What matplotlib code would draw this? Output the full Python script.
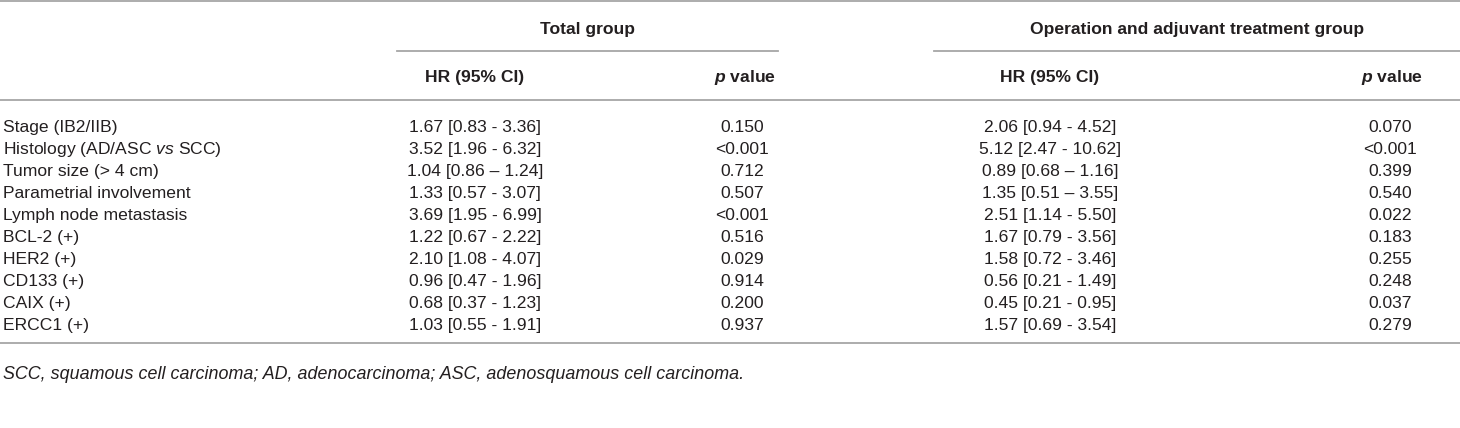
import matplotlib
matplotlib.use("Agg")
import matplotlib.pyplot as plt

plt.rcParams["font.family"] = ["Liberation Sans", "DejaVu Sans"]
plt.rcParams["mathtext.fontset"] = "custom"
plt.rcParams["mathtext.rm"] = "Liberation Sans"
plt.rcParams["mathtext.it"] = "Liberation Sans:italic"
plt.rcParams["mathtext.bf"] = "Liberation Sans:bold"
plt.rcParams["mathtext.bfit"] = "Liberation Sans:italic:bold"

# table contents
variables = ["Stage (IB2/IIB)", r"Histology (AD/ASC $\mathit{vs}$ SCC)", "Tumor size (> 4 cm)",
             "Parametrial involvement", "Lymph node metastasis", "BCL-2 (+)", "HER2 (+)",
             "CD133 (+)", "CAIX (+)", "ERCC1 (+)"]
hr_total = ["1.67 [0.83 - 3.36]", "3.52 [1.96 - 6.32]", "1.04 [0.86 \u2013 1.24]",
            "1.33 [0.57 - 3.07]", "3.69 [1.95 - 6.99]", "1.22 [0.67 - 2.22]",
            "2.10 [1.08 - 4.07]", "0.96 [0.47 - 1.96]", "0.68 [0.37 - 1.23]",
            "1.03 [0.55 - 1.91]"]
p_total = ["0.150", "<0.001", "0.712", "0.507", "<0.001", "0.516", "0.029", "0.914",
           "0.200", "0.937"]
hr_op = ["2.06 [0.94 - 4.52]", "5.12 [2.47 - 10.62]", "0.89 [0.68 \u2013 1.16]",
         "1.35 [0.51 \u2013 3.55]", "2.51 [1.14 - 5.50]", "1.67 [0.79 - 3.56]",
         "1.58 [0.72 - 3.46]", "0.56 [0.21 - 1.49]", "0.45 [0.21 - 0.95]",
         "1.57 [0.69 - 3.54]"]
p_op = ["0.070", "<0.001", "0.399", "0.540", "0.022", "0.183", "0.255", "0.248",
        "0.037", "0.279"]
groups = ["Total group", "Operation and adjuvant treatment group"]
footnote = "SCC, squamous cell carcinoma; AD, adenocarcinoma; ASC, adenosquamous cell carcinoma."

W, H = 1460, 428
fig = plt.figure(figsize=(W / 100, H / 100), dpi=100)
ax = fig.add_axes([0, 0, 1, 1])
ax.set_xlim(0, W)
ax.set_ylim(H, 0)
ax.axis("off")

txt = "#231f20"
rule = "#a6a6a6"
fs = 12.6

# rules
ax.plot([0, W], [1, 1], color=rule, lw=1.3)
ax.plot([397, 778], [51, 51], color=rule, lw=1.3)
ax.plot([934, W], [51, 51], color=rule, lw=1.3)
ax.plot([0, W], [100, 100], color=rule, lw=1.3)
ax.plot([0, W], [343, 343], color=rule, lw=1.3)

# header
ax.text(587, 34, groups[0], ha="center", va="baseline", fontsize=fs, fontweight="bold", color=txt)
ax.text(1197, 34, groups[1], ha="center", va="baseline", fontsize=fs, fontweight="bold", color=txt)
for xc, xp in [(475, 745), (1050, 1392)]:
    ax.text(xc, 82, "HR (95% CI)", ha="center", va="baseline", fontsize=fs, fontweight="bold", color=txt)
    ax.text(xp, 82, r"$\mathbfit{p}$ value", ha="center", va="baseline", fontsize=fs,
            fontweight="bold", color=txt)

# body rows
for i in range(len(variables)):
    y = 132 + 22 * i
    ax.text(3, y, variables[i], ha="left", va="baseline", fontsize=fs, color=txt)
    ax.text(475, y, hr_total[i], ha="center", va="baseline", fontsize=fs, color=txt)
    ax.text(742, y, p_total[i], ha="center", va="baseline", fontsize=fs, color=txt)
    ax.text(1050, y, hr_op[i], ha="center", va="baseline", fontsize=fs, color=txt)
    ax.text(1390, y, p_op[i], ha="center", va="baseline", fontsize=fs, color=txt)

ax.text(3, 379, footnote, ha="left", va="baseline", fontsize=12.9, style="italic", color=txt)

fig.savefig("out.png", dpi=100)
